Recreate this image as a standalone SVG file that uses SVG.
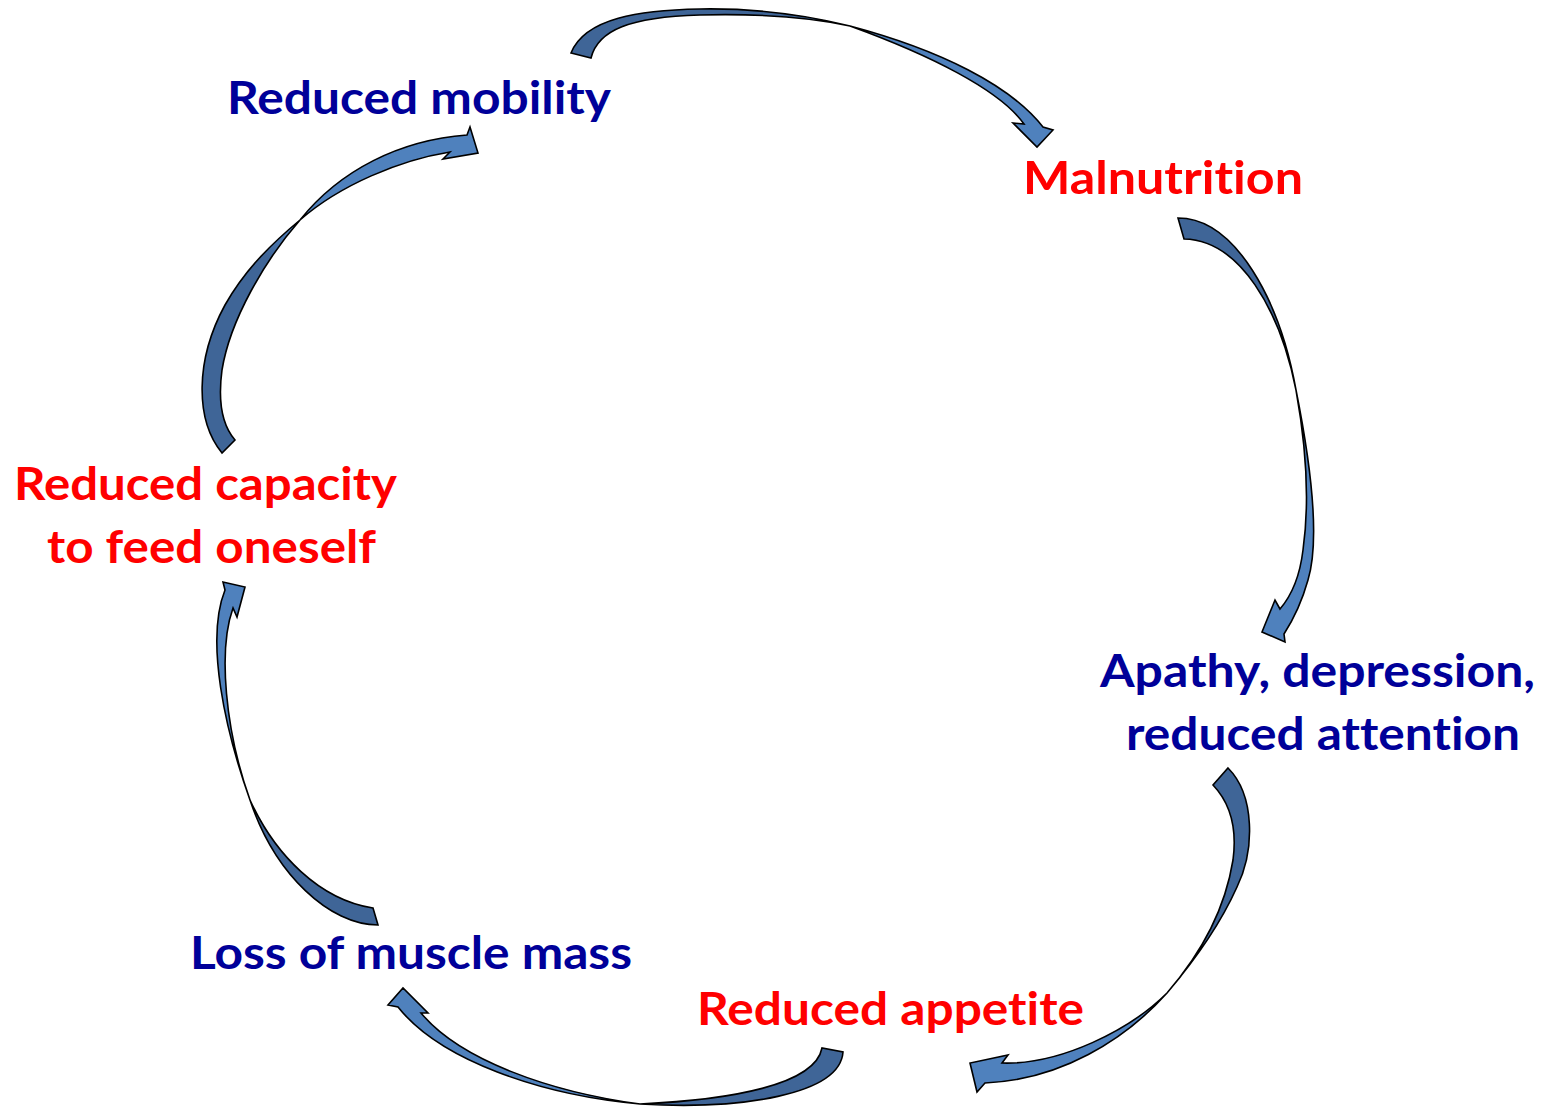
<svg xmlns="http://www.w3.org/2000/svg" width="1546" height="1110" viewBox="0 0 1546 1110">
<style>
.lbl{font-family:Lato,"Open Sans","Liberation Sans",sans-serif;font-weight:bold;font-size:46px;font-variant-ligatures:none;font-feature-settings:"liga" 0,"clig" 0}
.navy{fill:#000099}
.red{fill:#ff0000}
.arr{stroke:#000;stroke-width:1.6;stroke-linejoin:miter}
</style>
<defs>
<linearGradient id="g1" gradientUnits="userSpaceOnUse" x1="580" y1="40" x2="1040" y2="140"><stop offset="0" stop-color="#3f6597"/><stop offset="0.5" stop-color="#3f6597"/><stop offset="0.6" stop-color="#4f81bd"/><stop offset="1" stop-color="#4f81bd"/></linearGradient>
<linearGradient id="g2" gradientUnits="userSpaceOnUse" x1="1180" y1="228" x2="1275" y2="625"><stop offset="0" stop-color="#3f6597"/><stop offset="0.5" stop-color="#3f6597"/><stop offset="0.6" stop-color="#4f81bd"/><stop offset="1" stop-color="#4f81bd"/></linearGradient>
<linearGradient id="g3" gradientUnits="userSpaceOnUse" x1="1225" y1="780" x2="985" y2="1075"><stop offset="0" stop-color="#3f6597"/><stop offset="0.5" stop-color="#3f6597"/><stop offset="0.6" stop-color="#4f81bd"/><stop offset="1" stop-color="#4f81bd"/></linearGradient>
<linearGradient id="g4" gradientUnits="userSpaceOnUse" x1="835" y1="1060" x2="405" y2="1005"><stop offset="0" stop-color="#3f6597"/><stop offset="0.45" stop-color="#3f6597"/><stop offset="0.55" stop-color="#4f81bd"/><stop offset="1" stop-color="#4f81bd"/></linearGradient>
<linearGradient id="g5" gradientUnits="userSpaceOnUse" x1="370" y1="915" x2="232" y2="595"><stop offset="0" stop-color="#3f6597"/><stop offset="0.45" stop-color="#3f6597"/><stop offset="0.55" stop-color="#4f81bd"/><stop offset="1" stop-color="#4f81bd"/></linearGradient>
<linearGradient id="g6" gradientUnits="userSpaceOnUse" x1="228" y1="445" x2="465" y2="145"><stop offset="0" stop-color="#3f6597"/><stop offset="0.45" stop-color="#3f6597"/><stop offset="0.55" stop-color="#4f81bd"/><stop offset="1" stop-color="#4f81bd"/></linearGradient>
</defs>
<rect width="1546" height="1110" fill="#ffffff"/>
<g id="connectors">
<path class="arr" fill="url(#g1)" d="M571,53 C585,18 640,10 700,9 C760,8 810,16 850,26 C940,50 1010,85 1043,127 L1053,130 L1037,147 L1013,123 L1024,124 C1000,90 930,55 850,26 C800,15 740,14 700,15 C630,17 598,30 591,58 Z"/>
<path class="arr" fill="url(#g2)" d="M1178,218 C1235,218 1280,300 1296,390 C1312,470 1320,540 1308,580 C1301,605 1293,620 1284,634 L1285,642 L1262,632 L1275,600 L1280,609 C1292,595 1300,575 1303,550 C1310,500 1305,440 1296,390 C1280,310 1240,240 1184,239 Z"/>
<path class="arr" fill="url(#g3)" d="M1228,768 C1255,795 1255,850 1237,887 C1220,925 1195,960 1167,993 C1125,1040 1060,1080 985,1083 L977,1092 L970,1063 L1008,1055 L1002,1063 C1060,1065 1130,1030 1167,993 C1200,955 1225,910 1233,860 C1237,830 1232,805 1213,785 Z"/>
<path class="arr" fill="url(#g4)" d="M843,1052 C840,1095 740,1110 640,1104 C540,1095 440,1060 398,1007 L388,1005 L403,988 L428,1013 L421,1013 C460,1060 550,1092 640,1104 C730,1100 815,1085 822,1048 Z"/>
<path class="arr" fill="url(#g5)" d="M378,925 C330,925 275,875 250,800 C225,730 205,640 225,590 L223,582 L245,587 L237,617 L233,608 C218,650 225,730 250,800 C275,855 320,900 373,908 Z"/>
<path class="arr" fill="url(#g6)" d="M222,453 C195,420 195,360 225,305 C245,270 270,245 300,220 C340,185 400,160 450,152 L443,159 L478,153 L470,127 L467,135 C400,140 340,170 300,220 C265,260 230,320 222,370 C218,400 222,425 235,440 Z"/>
</g>
<g id="node-reduced-mobility"><text class="lbl navy" x="227" y="114" textLength="384" lengthAdjust="spacingAndGlyphs">Reduced mobility</text></g>
<g id="node-malnutrition"><text class="lbl red" x="1023" y="194" textLength="280" lengthAdjust="spacingAndGlyphs">Malnutrition</text></g>
<g id="node-apathy">
<text class="lbl navy" x="1100" y="687" textLength="435" lengthAdjust="spacingAndGlyphs">Apathy, depression,</text>
<text class="lbl navy" x="1126" y="750" textLength="394" lengthAdjust="spacingAndGlyphs">reduced attention</text>
</g>
<g id="node-reduced-appetite"><text class="lbl red" x="697" y="1025" textLength="387" lengthAdjust="spacingAndGlyphs">Reduced appetite</text></g>
<g id="node-loss-muscle"><text class="lbl navy" x="190" y="969" textLength="442" lengthAdjust="spacingAndGlyphs">Loss of muscle mass</text></g>
<g id="node-reduced-capacity">
<text class="lbl red" x="14" y="500" textLength="383" lengthAdjust="spacingAndGlyphs">Reduced capacity</text>
<text class="lbl red" x="47" y="563" textLength="329" lengthAdjust="spacingAndGlyphs">to feed oneself</text>
</g>
</svg>
